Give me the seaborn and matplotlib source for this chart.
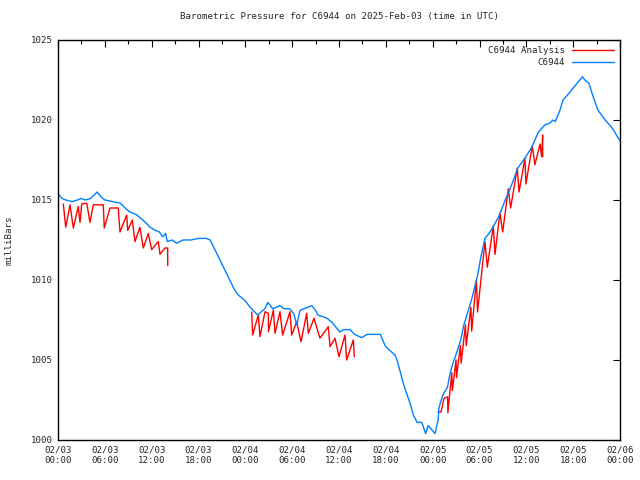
import pandas as pd
import seaborn as sns
import matplotlib.pyplot as plt
from matplotlib.ticker import FixedLocator, MultipleLocator

# observed station pressure (hours since 2025-02-03 00:00 UTC, mb)
obs_hours = [0.0, 0.5, 1.0, 1.8, 2.5, 3.0, 3.5, 4.2, 5.0, 5.5, 6.0, 7.0, 8.0, 8.6, 9.2,
             10.0, 10.5, 11.2, 11.8, 12.5, 13.0, 13.4, 13.8, 14.0, 14.6, 15.2, 16.0, 17.0,
             18.0, 19.0, 19.5, 20.0, 20.5, 21.0, 21.5, 22.0, 22.5, 23.0, 23.5, 24.0, 24.6,
             25.0, 25.6, 26.0, 26.5, 26.9, 27.5, 28.0, 28.4, 29.0, 29.7, 30.2, 30.6, 31.0,
             31.5, 32.0, 32.5, 33.0, 33.3, 34.0, 34.5, 35.2, 35.7, 36.1, 36.6, 37.4, 38.0,
             38.9, 39.6, 40.5, 41.3, 41.9, 42.5, 43.2, 43.5, 44.2, 44.6, 45.1, 45.5, 46.0,
             46.6, 47.1, 47.4, 47.7, 48.3, 48.7, 48.8, 49.1, 49.4, 49.9, 50.1, 50.3, 50.6,
             50.9, 51.3, 51.6, 52.0, 52.5, 53.0, 53.8, 54.2, 54.7, 55.2, 55.6, 56.4, 57.3,
             58.2, 58.9, 59.8, 60.7, 61.5, 62.0, 62.4, 63.0, 63.4, 63.7, 64.3, 64.7, 65.6,
             66.5, 67.2, 67.5, 68.0, 68.6, 69.2, 70.1, 71.0, 72.0]
obs_mb = [1015.4, 1015.1, 1015.0, 1014.9, 1015.0, 1015.1, 1015.0, 1015.1, 1015.5, 1015.2,
          1015.0, 1014.9, 1014.8, 1014.5, 1014.25, 1014.1, 1013.9, 1013.6, 1013.3, 1013.1,
          1013.0, 1012.7, 1012.9, 1012.4, 1012.5, 1012.3, 1012.5, 1012.5, 1012.6, 1012.6,
          1012.5, 1012.0, 1011.5, 1011.0, 1010.5, 1010.0, 1009.5, 1009.1, 1008.9, 1008.7,
          1008.3, 1008.1, 1007.8, 1008.0, 1008.2, 1008.6, 1008.2, 1008.3, 1008.4, 1008.2,
          1008.2, 1007.9, 1007.2, 1008.1, 1008.2, 1008.3, 1008.4, 1008.1, 1007.8, 1007.7,
          1007.6, 1007.3, 1007.0, 1006.75, 1006.9, 1006.9, 1006.6, 1006.4, 1006.6, 1006.6,
          1006.6, 1005.9, 1005.6, 1005.3, 1004.9, 1003.6, 1003.0, 1002.3, 1001.6, 1001.1,
          1001.1, 1000.4, 1000.9, 1000.75, 1000.4, 1001.25, 1002.0, 1002.5, 1002.9, 1003.3,
          1003.85, 1004.3, 1004.8, 1005.2, 1005.8, 1006.25, 1007.2, 1008.0, 1008.8, 1010.4,
          1011.5, 1012.6, 1012.9, 1013.2, 1013.9, 1015.0, 1016.05, 1017.0, 1017.6, 1018.3,
          1019.2, 1019.5, 1019.7, 1019.8, 1020.0, 1019.9, 1020.6, 1021.25, 1021.75, 1022.3,
          1022.7, 1022.5, 1022.3, 1021.4, 1020.6, 1020.0, 1019.5, 1018.7]

# analysis values, three separate runs
ana1_hours = [0.68, 0.99, 1.54, 1.96, 2.60, 2.82, 3.04, 3.68, 4.10, 4.52, 5.80, 5.93, 6.66,
              7.72, 7.94, 8.80, 8.93, 9.52, 9.86, 10.50, 10.93, 11.57, 12.00, 12.85, 13.07,
              13.71, 14.05, 14.06]
ana1_mb = [1014.75, 1013.3, 1014.7, 1013.25, 1014.6, 1013.6, 1014.75, 1014.8, 1013.6, 1014.7,
           1014.7, 1013.25, 1014.5, 1014.5, 1013.0, 1014.06, 1013.1, 1013.75, 1012.4, 1013.3,
           1012.0, 1012.9, 1011.9, 1012.4, 1011.6, 1012.0, 1012.0, 1010.9]
ana2_hours = [24.81, 24.94, 25.66, 25.88, 26.52, 26.95, 26.96, 27.59, 27.80, 28.44, 28.78,
              29.72, 29.94, 30.58, 31.13, 31.86, 32.07, 32.80, 33.56, 34.63, 34.85, 35.49,
              36.00, 36.77, 36.98, 37.83, 37.96]
ana2_mb = [1008.0, 1006.56, 1007.81, 1006.46, 1008.02, 1007.92, 1006.77, 1008.12, 1006.67,
           1008.02, 1006.56, 1008.02, 1006.56, 1007.39, 1006.14, 1007.92, 1006.67, 1007.61,
           1006.36, 1007.08, 1005.83, 1006.36, 1005.21, 1006.56, 1005.0, 1006.25, 1005.2]
ana3_hours = [48.68, 49.07, 49.45, 49.92, 49.95, 50.45, 50.52, 51.00, 51.05, 51.55, 51.65,
              52.20, 52.30, 52.90, 53.00, 53.60, 53.75, 54.70, 55.00, 55.77, 55.98, 56.62,
              56.97, 57.69, 57.99, 58.84, 59.06, 59.82, 59.95, 60.76, 61.10, 61.75, 61.96,
              62.09, 62.10]
ana3_mb = [1001.75, 1001.75, 1002.6, 1002.7, 1001.7, 1004.2, 1003.1, 1005.0, 1003.9, 1005.9,
           1004.8, 1007.2, 1005.9, 1008.3, 1006.8, 1010.0, 1008.0, 1012.4, 1010.8, 1013.4,
           1011.6, 1014.2, 1013.0, 1015.7, 1014.5, 1017.0, 1015.5, 1017.6, 1016.0, 1018.4,
           1017.2, 1018.5, 1017.7, 1019.06, 1017.7]

tick_hours = [0, 6, 12, 18, 24, 30, 36, 42, 48, 54, 60, 66, 72]
tick_labels = ['02/03\n00:00', '02/03\n06:00', '02/03\n12:00', '02/03\n18:00',
               '02/04\n00:00', '02/04\n06:00', '02/04\n12:00', '02/04\n18:00',
               '02/05\n00:00', '02/05\n06:00', '02/05\n12:00', '02/05\n18:00',
               '02/06\n00:00']

obs = pd.DataFrame({'hours': obs_hours, 'mb': obs_mb})
ana = pd.concat([
    pd.DataFrame({'hours': ana1_hours, 'mb': ana1_mb, 'run': 1}),
    pd.DataFrame({'hours': ana2_hours, 'mb': ana2_mb, 'run': 2}),
    pd.DataFrame({'hours': ana3_hours, 'mb': ana3_mb, 'run': 3}),
], ignore_index=True)

sns.set_style('white')
plt.rcParams['font.family'] = ['DejaVu Sans Mono']
fs = 6.6

fig = plt.figure(figsize=(6.4, 4.8), dpi=100)
ax = fig.add_axes([58 / 640, 40 / 480, 562 / 640, 400 / 480])

sns.lineplot(x='hours', y='mb', data=ana, units='run', estimator=None, color='#ff0000',
             lw=1.0, ax=ax, sort=False)
sns.lineplot(x='hours', y='mb', data=obs, color='#0080ff', lw=1.0, ax=ax, sort=False)
# legend handles
ax.plot([], [], color='#ff0000', lw=1.0, label='C6944 Analysis')
ax.plot([], [], color='#0080ff', lw=1.0, label='C6944')

ax.set_xlim(0, 72)
ax.set_ylim(1000, 1025)
ax.xaxis.set_major_locator(FixedLocator(tick_hours))
ax.set_xticklabels(tick_labels)
ax.xaxis.set_minor_locator(MultipleLocator(3))
ax.yaxis.set_major_locator(MultipleLocator(5))
ax.tick_params(which='both', direction='in', top=True, right=True, labelsize=fs,
               color='black', width=0.8, pad=4)
ax.tick_params(which='major', length=5)
ax.tick_params(which='minor', length=3)
for s in ax.spines.values():
    s.set_color('black')
    s.set_linewidth(1.0)

ax.set_xlabel('')
ax.set_ylabel('milliBars', fontsize=fs, labelpad=12)
ax.set_title('Barometric Pressure for C6944 on 2025-Feb-03 (time in UTC)', fontsize=fs, pad=15)

leg = ax.legend(loc='upper right', frameon=False, fontsize=fs, markerfirst=False,
                handlelength=4.5, borderaxespad=0.3, labelspacing=0.3)
for t in leg.get_texts():
    t.set_ha('right')

fig.savefig('out.png', dpi=100)
